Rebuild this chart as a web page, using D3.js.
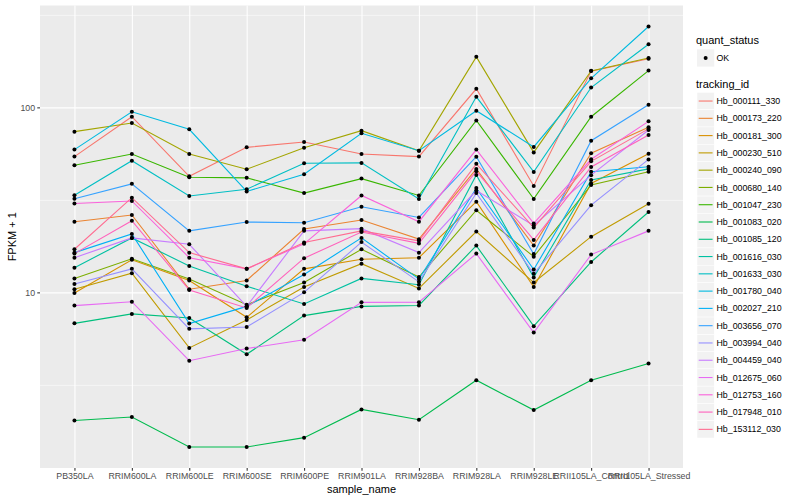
<!DOCTYPE html>
<html>
<head>
<meta charset="utf-8">
<script src="https://cdn.jsdelivr.net/npm/d3@7/dist/d3.min.js"></script>
<style>
  body { margin: 0; background: #fff; }
  text { font-family: "Liberation Sans", Arial, sans-serif; }
</style>
</head>
<body>
<div id="chart"></div>
<script>
// categories on the x axis
var sampleNames = ["PB350LA", "RRIM600LA", "RRIM600LE", "RRIM600SE", "RRIM600PE", "RRIM901LA",
  "RRIM928BA", "RRIM928LA", "RRIM928LE", "RRII105LA_Control", "RRII105LA_Stressed"];

var trackingIds = ["Hb_000111_330", "Hb_000173_220", "Hb_000181_300", "Hb_000230_510", "Hb_000240_090",
  "Hb_000680_140", "Hb_001047_230", "Hb_001083_020", "Hb_001085_120", "Hb_001616_030",
  "Hb_001633_030", "Hb_001780_040", "Hb_002027_210", "Hb_003656_070", "Hb_003994_040",
  "Hb_004459_040", "Hb_012675_060", "Hb_012753_160", "Hb_017948_010", "Hb_153112_030"];

// FPKM + 1, one value per sample
var hb_000111_330 = [54.2, 89, 42.4, 60.8, 65, 56, 54.2, 126, 37.6, 157, 183];
var hb_000173_220 = [24.1, 26.2, 10.4, 11.6, 22, 24.6, 19.4, 46.5, 17.9, 56.5, 78];
var hb_000181_300 = [9.93, 15.0, 11.6, 7.33, 13.4, 15.1, 15.4, 30.9, 10.7, 38.8, 56.2];
var hb_000230_510 = [10.4, 12.7, 5.01, 7.1, 10.7, 14.3, 10.5, 21.3, 11.3, 20, 30.1];
var hb_000240_090 = [73.9, 82.3, 56, 46.3, 60.5, 74.8, 58.3, 187.5, 57.1, 157.5, 185];
var hb_000680_140 = [11.9, 15.2, 11.8, 8.58, 11.3, 17.1, 12.1, 27.8, 15.6, 38.1, 44.9];
var hb_001047_230 = [48.7, 56, 41.9, 41.6, 34.4, 41.2, 33.4, 84.9, 32, 89, 158];
var hb_001083_020 = [2.03, 2.12, 1.46, 1.46, 1.64, 2.33, 2.05, 3.35, 2.31, 3.35, 4.13];
var hb_001085_120 = [6.8, 7.65, 7.27, 4.63, 7.49, 8.4, 8.5, 17.9, 6.57, 14.6, 27.2];
var hb_001616_030 = [13.6, 19.7, 13.9, 10.8, 8.66, 11.9, 11, 43.1, 12.05, 40.5, 46.5];
var hb_001633_030 = [33.5, 51.5, 33.2, 36.1, 49.9, 50.1, 32, 114, 44.8, 128, 219.5];
var hb_001780_040 = [59.1, 94.7, 76.1, 35.1, 43.5, 72.4, 58.3, 95.9, 61.1, 143.5, 273.5];
var hb_002027_210 = [16.4, 20.7, 6.78, 8.4, 12.5, 19.7, 11.8, 36.6, 13.3, 44.9, 47.8];
var hb_003656_070 = [32.1, 38.6, 21.5, 24, 23.8, 29, 25.4, 54.1, 16.1, 66, 103.3];
var hb_003994_040 = [11.1, 13.4, 6.35, 6.5, 10, 18.7, 11.4, 34.4, 12.6, 29.6, 52.3];
var hb_004459_040 = [15.4, 19.7, 18.2, 8.4, 21.5, 22.1, 16.4, 35.5, 23, 43, 75.5];
var hb_012675_060 = [8.48, 8.9, 4.27, 4.97, 5.54, 8.83, 8.85, 16.2, 6.06, 16, 21.5];
var hb_012753_160 = [30.2, 31.2, 15.4, 13.4, 18.3, 33.4, 24.1, 59.1, 23.6, 52.4, 84];
var hb_017948_010 = [16.2, 24.4, 10.3, 8.24, 15.3, 21.2, 18.4, 45.2, 19.2, 47.6, 70.9];
var hb_153112_030 = [17.1, 32.5, 16.4, 13.4, 18.6, 21.5, 19.0, 49.5, 22.4, 51.1, 76.5];

var yTicks = [10, 100];
var yMinor = [Math.pow(10, 0.5), Math.pow(10, 1.5), Math.pow(10, 2.5)];

var seriesValues = [hb_000111_330, hb_000173_220, hb_000181_300, hb_000230_510, hb_000240_090,
  hb_000680_140, hb_001047_230, hb_001083_020, hb_001085_120, hb_001616_030,
  hb_001633_030, hb_001780_040, hb_002027_210, hb_003656_070, hb_003994_040,
  hb_004459_040, hb_012675_060, hb_012753_160, hb_017948_010, hb_153112_030];

// ggplot hue palette for 20 groups
var palette = ["#F8766D", "#EA8331", "#D89000", "#C09B00", "#A3A500", "#7CAE00", "#39B600", "#00BB4E",
  "#00BF7D", "#00C1A3", "#00BFC4", "#00BAE0", "#00B0F6", "#35A2FF", "#9590FF", "#C77CFF",
  "#E76BF3", "#FA62DB", "#FF62BC", "#FF6C91"];

var series = trackingIds.map(function (id, i) {
  return { id: id, color: palette[i], values: seriesValues[i] };
});

var margin = { top: 5.5, right: 117, bottom: 32, left: 40 },
  width = 800 - margin.left - margin.right,
  height = 500 - margin.top - margin.bottom;

var svg = d3.select("#chart").append("svg")
  .attr("width", 800)
  .attr("height", 500);

var g = svg.append("g")
  .attr("transform", "translate(" + margin.left + "," + margin.top + ")");

var x = d3.scalePoint().domain(sampleNames).range([0, width]).padding(0.6);

// log scale with 5% expansion like ggplot
var all = [].concat.apply([], seriesValues);
var lo = Math.log10(d3.min(all)), hi = Math.log10(d3.max(all)), pad = (hi - lo) * 0.05;
var y = d3.scaleLog().domain([Math.pow(10, lo - pad), Math.pow(10, hi + pad)]).range([height, 0]);

// panel background
g.append("rect").attr("width", width).attr("height", height).attr("fill", "#EBEBEB");

// minor grid
g.append("g").attr("class", "grid")
  .call(d3.axisLeft(y).tickValues(yMinor).tickSize(-width).tickFormat(""))
  .call(function (s) {
    s.select(".domain").remove();
    s.selectAll("line").attr("stroke", "#fff").attr("stroke-width", 0.53);
  });

// major grid
g.append("g").attr("class", "grid")
  .call(d3.axisLeft(y).tickValues(yTicks).tickSize(-width).tickFormat(""))
  .call(function (s) {
    s.select(".domain").remove();
    s.selectAll("line").attr("stroke", "#fff").attr("stroke-width", 1.07);
  });

g.append("g").attr("class", "grid")
  .attr("transform", "translate(0," + height + ")")
  .call(d3.axisBottom(x).tickSize(-height).tickFormat(""))
  .call(function (s) {
    s.select(".domain").remove();
    s.selectAll("line").attr("stroke", "#fff").attr("stroke-width", 1.07);
  });

var line = d3.line()
  .x(function (d, i) { return x(sampleNames[i]); })
  .y(function (d) { return y(d); });

g.selectAll(".series")
  .data(series)
  .enter().append("path")
  .attr("class", "series")
  .attr("d", function (d) { return line(d.values); })
  .attr("fill", "none")
  .attr("stroke", function (d) { return d.color; })
  .attr("stroke-width", 1.1);

series.forEach(function (s) {
  g.selectAll(null)
    .data(s.values)
    .enter().append("circle")
    .attr("cx", function (d, i) { return x(sampleNames[i]); })
    .attr("cy", function (d) { return y(d); })
    .attr("r", 2)
    .attr("fill", "#000");
});

// axes
function styleAxis(s) {
  s.select(".domain").remove();
  s.selectAll("line").attr("stroke", "#333333").attr("stroke-width", 1.07);
  s.selectAll("text").attr("fill", "#4D4D4D").style("font-size", "8.8px")
    .style("font-family", "'Liberation Sans', Arial, sans-serif");
}

g.append("g")
  .call(d3.axisLeft(y).tickValues(yTicks).tickSize(2.74).tickPadding(2.2).tickFormat(d3.format("d")))
  .call(styleAxis);

g.append("g")
  .attr("transform", "translate(0," + height + ")")
  .call(d3.axisBottom(x).tickSize(2.74).tickPadding(2.2))
  .call(styleAxis);

// axis titles
svg.append("text")
  .attr("x", margin.left + width / 2)
  .attr("y", 493)
  .attr("text-anchor", "middle")
  .style("font-size", "11px")
  .text("sample_name");

svg.append("text")
  .attr("transform", "translate(16," + (margin.top + height / 2) + ") rotate(-90)")
  .attr("text-anchor", "middle")
  .style("font-size", "11px")
  .text("FPKM + 1");

// legend
var legend = svg.append("g").attr("transform", "translate(697,0)");
var key = 17.28;

legend.append("text").attr("x", -1).attr("y", 44).style("font-size", "11px").text("quant_status");
legend.append("rect").attr("x", 0).attr("y", 49.3).attr("width", key).attr("height", key).attr("fill", "#F2F2F2");
legend.append("circle").attr("cx", key / 2).attr("cy", 49.3 + key / 2).attr("r", 2).attr("fill", "#000");
legend.append("text").attr("x", 19.5).attr("y", 49.3 + key / 2).attr("dy", "0.35em")
  .style("font-size", "8.8px").text("OK");

legend.append("text").attr("x", -1).attr("y", 88).style("font-size", "11px").text("tracking_id");

var items = legend.selectAll(".item")
  .data(series)
  .enter().append("g")
  .attr("class", "item")
  .attr("transform", function (d, i) { return "translate(0," + (92.4 + i * key) + ")"; });

items.append("rect").attr("width", key).attr("height", key).attr("fill", "#F2F2F2")
  .attr("stroke", "#fff").attr("stroke-width", 0.5);
items.append("line")
  .attr("x1", 1.7).attr("x2", key - 1.7)
  .attr("y1", key / 2).attr("y2", key / 2)
  .attr("stroke", function (d) { return d.color; })
  .attr("stroke-width", 1.1);
items.append("text")
  .attr("x", 19.5).attr("y", key / 2).attr("dy", "0.35em")
  .style("font-size", "8.8px")
  .text(function (d) { return d.id; });
</script>
</body>
</html>
